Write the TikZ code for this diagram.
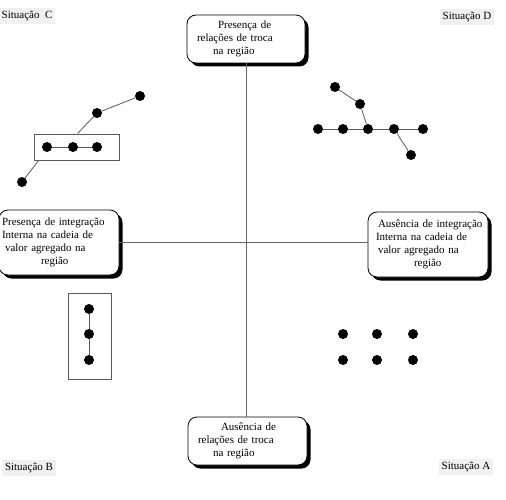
\documentclass[tikz,border=0pt]{standalone}
\usepackage{fontspec}
\setmainfont{Liberation Serif}
\usetikzlibrary{shadows,calc}
\begin{document}
\begin{tikzpicture}[x=1pt,y=-1pt,
  lbox/.style={draw=black,line width=0.8pt,fill=white,rounded corners=9pt,
    drop shadow={shadow xshift=3.5pt,shadow yshift=-3.5pt,opacity=1,fill=black},
    align=left,font=\fontsize{11}{12.8}\selectfont,inner ysep=2pt,anchor=center},
  sit/.style={fill=black!6,inner xsep=3pt,inner ysep=3pt,font=\fontsize{11}{13}\selectfont},
  dot/.style={circle,fill=black,inner sep=0pt,minimum size=10pt},
  gline/.style={draw=black!65,line width=0.8pt},
  gbox/.style={draw=black!65,line width=0.9pt,inner sep=0pt},
  axis/.style={draw=black!60,line width=0.7pt}]
\useasboundingbox (0,0) rectangle (506,500);
% boxes
\node[lbox,minimum width=118pt,minimum height=48pt,text width=98pt,inner xsep=10pt] (top) at (246,39)
  {\hspace*{21pt}Presença de\\relações de troca\\\hspace*{16pt}na região};
\node[lbox,minimum width=119pt,minimum height=48pt,text width=99pt,inner xsep=10pt] (bot) at (247.5,441)
  {\hspace*{23pt}Ausência de\\relações de troca\\\hspace*{15pt}na região};
\node[lbox,minimum width=120pt,minimum height=65pt,text width=114pt,inner xsep=3pt] (left) at (59,242.5)
  {Presença de integração\\Interna na cadeia de\\\hspace*{3pt}valor agregado na\\\hspace*{39pt}região};
\node[lbox,minimum width=120pt,minimum height=65pt,text width=112pt,inner xsep=4pt] (right) at (428,244.5)
  {\hspace*{6pt}Ausência de integração\\\hspace*{4pt}Interna na cadeia de\\\hspace*{6pt}valor agregado na\\\hspace*{42pt}região};
% axes
\draw[axis] (top.south) -- (top.south |- bot.north);
\draw[axis] (left.east) -- (left.east -| right.west);
% situation labels
\node[sit] (sc) at (27,16) {Situação\ \ C};
\node[sit] (sd) at (467,17) {Situação D};
\node[sit] (sb) at (29,468) {Situação B};
\node[sit] (sa) at (466,467) {Situação A};
% Situation C
\node[gbox,minimum width=85pt,minimum height=26pt] (boxC) at (76.5,147) {};
\node[dot] (c1) at (47,147) {};
\node[dot] (c2) at (73,147) {};
\node[dot] (c3) at (97,147) {};
\node[dot] (c4) at (97,113) {};
\node[dot] (c5) at (140,96) {};
\node[dot] (c0) at (22,182) {};
\coordinate (cb) at ($(boxC.south west)+(5,0)$);
\coordinate (ct) at ($(boxC.north west)+(44,0)$);
\draw[gline] (c1) -- (c2) -- (c3);
\draw[gline] (c0) -- (cb);
\draw[gline] (ct) -- (c4) -- (c5);
% Situation D
\node[dot] (d1) at (335,87) {};
\node[dot] (d2) at (360,104) {};
\node[dot] (d3) at (318,129) {};
\node[dot] (d4) at (343,129) {};
\node[dot] (d5) at (368,129) {};
\node[dot] (d6) at (394,129) {};
\node[dot] (d7) at (423,129) {};
\node[dot] (d8) at (411,155) {};
\draw[gline] (d1) -- (d2) -- (d5);
\draw[gline] (d3) -- (d4) -- (d5) -- (d6) -- (d7);
\draw[gline] (d6) -- (d8);
% Situation B
\node[gbox,minimum width=43pt,minimum height=86pt] (boxB) at (89.5,336) {};
\node[dot] (b1) at (89,309) {};
\node[dot] (b2) at (89,334) {};
\node[dot] (b3) at (89,360) {};
\draw[gline] (b1) -- (b2) -- (b3);
% Situation A
\node[dot] (a1) at (343,334) {};
\node[dot] (a2) at (377,334) {};
\node[dot] (a3) at (413,334) {};
\node[dot] (a4) at (343,360) {};
\node[dot] (a5) at (377,360) {};
\node[dot] (a6) at (413,360) {};
\end{tikzpicture}
\end{document}
